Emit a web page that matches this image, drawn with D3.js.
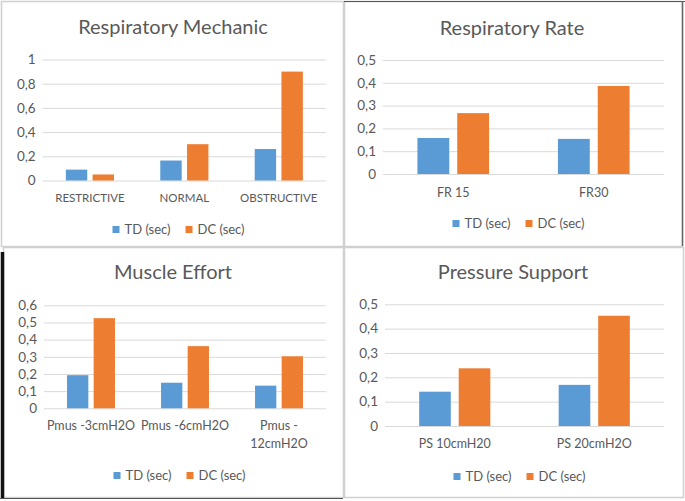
<!DOCTYPE html>
<html>
<head>
<meta charset="utf-8">
<script src="https://cdn.jsdelivr.net/npm/d3@7"></script>
<style>
  body { margin: 0; background: #fff; }
  svg { display: block; font-family: Lato, "Open Sans", sans-serif; }
</style>
</head>
<body>
<svg id="chart" width="685" height="501"></svg>
<script>
// series shared by all four panels
const seriesNames = ["TD (sec)", "DC (sec)"];
const seriesColors = ["#5B9BD5", "#ED7D31"];

// Respiratory Mechanic
const mechCats = ["RESTRICTIVE", "NORMAL", "OBSTRUCTIVE"];
const mechTD = [0.09, 0.165, 0.26];
const mechDC = [0.05, 0.30, 0.90];
const mechTicks = [0, 0.2, 0.4, 0.6, 0.8, 1];

// Respiratory Rate
const rateCats = ["FR 15", "FR30"];
const rateTD = [0.158, 0.154];
const rateDC = [0.267, 0.386];
const rateTicks = [0, 0.1, 0.2, 0.3, 0.4, 0.5];

// Muscle Effort
const muscleCats = ["Pmus -3cmH2O", "Pmus -6cmH2O", "Pmus -12cmH2O"];
const muscleTD = [0.193, 0.149, 0.132];
const muscleDC = [0.525, 0.362, 0.303];
const muscleTicks = [0, 0.1, 0.2, 0.3, 0.4, 0.5, 0.6];

// Pressure Support
const psCats = ["PS 10cmH20", "PS 20cmH2O"];
const psTD = [0.141, 0.169];
const psDC = [0.237, 0.453];
const psTicks = [0, 0.1, 0.2, 0.3, 0.4, 0.5];

const svg = d3.select("#chart");
const textColor = "#595959";
const gridColor = "#D9D9D9";
const comma = d3.formatLocale({decimal: ",", thousands: ".", grouping: [3], currency: ["", ""]}).format("~g");

// panel frames (the screenshot has mixed light/dark edges)
function frame(x, y, w, h) {
    svg.append("rect")
        .attr("x", x + 0.5).attr("y", y + 0.5)
        .attr("width", w).attr("height", h)
        .attr("fill", "none")
        .attr("stroke", "#D0D0D0")
        .attr("stroke-width", 1.5);
}
frame(1, 1, 342, 245);
frame(344, 1, 338, 245);
frame(3, 247, 340, 250);
frame(344, 247, 339, 250);
// dark edges
svg.append("line").attr("x1", 344).attr("x2", 685).attr("y1", 1.5).attr("y2", 1.5)
    .attr("stroke", "#555").attr("stroke-width", 1.2);
svg.append("line").attr("x1", 682.5).attr("x2", 682.5).attr("y1", 1).attr("y2", 246)
    .attr("stroke", "#666").attr("stroke-width", 1.5);
svg.append("line").attr("x1", 2.5).attr("x2", 2.5).attr("y1", 252).attr("y2", 499)
    .attr("stroke", "#111").attr("stroke-width", 3.5);
svg.append("line").attr("x1", 0).attr("x2", 343).attr("y1", 498.5).attr("y2", 498.5)
    .attr("stroke", "#555").attr("stroke-width", 1.2);

function drawPanel(opt) {
    const g = svg.append("g");
    const rows = opt.cats.map((c, i) => ({cat: c, vals: [opt.td[i], opt.dc[i]]}));

    const x = d3.scaleBand().domain(opt.cats).range(opt.xRange);
    const y = d3.scaleLinear().domain([0, d3.max(opt.ticks)]).range(opt.yRange);
    const groupW = x.bandwidth() * 0.51;
    const x1 = d3.scaleBand().domain([0, 1]).range([-groupW / 2, groupW / 2]).paddingInner(0.2);

    // title
    g.append("text")
        .attr("x", opt.titleX).attr("y", opt.titleY)
        .attr("text-anchor", "middle")
        .attr("font-size", 20)
        .attr("fill", textColor)
        .text(opt.title);

    // gridlines + y labels
    const yAxis = d3.axisLeft(y).tickValues(opt.ticks).tickFormat(comma)
        .tickSize(-(opt.xRange[1] - opt.xRange[0])).tickPadding(7);
    const ya = g.append("g").attr("transform", `translate(${opt.xRange[0]},0)`).call(yAxis);
    ya.select(".domain").remove();
    ya.selectAll(".tick line").attr("stroke", gridColor).attr("stroke-width", 1);
    ya.selectAll(".tick text").attr("fill", textColor).attr("font-size", 13.5)
        .attr("font-family", "Lato, sans-serif");

    // bars
    const grp = g.selectAll(".grp").data(rows).enter().append("g")
        .attr("transform", d => `translate(${x(d.cat) + x.bandwidth() / 2},0)`);
    grp.selectAll("rect").data(d => d.vals).enter().append("rect")
        .attr("x", (d, i) => x1(i))
        .attr("width", x1.bandwidth())
        .attr("y", d => y(d))
        .attr("height", d => y(0) - y(d))
        .attr("fill", (d, i) => seriesColors[i]);

    // category labels
    const xa = g.append("g").attr("transform", `translate(0,${opt.yRange[0]})`)
        .call(d3.axisBottom(x).tickSize(0).tickPadding(opt.catPad));
    xa.select(".domain").remove();
    xa.selectAll(".tick text").attr("fill", textColor).attr("font-size", opt.catSize)
        .attr("font-family", "Lato, sans-serif")
        .each(function(d) {
            const t = d3.select(this);
            if (this.getComputedTextLength() > x.bandwidth() - 2) {
                const parts = d.split(" ");
                const first = parts.slice(0, -1).join(" ") + " " + parts[parts.length - 1].slice(0, 1);
                const rest = parts[parts.length - 1].slice(1);
                t.text(null);
                t.append("tspan").attr("x", 0).text(first);
                t.append("tspan").attr("x", 0).attr("dy", "1.4em").text(rest);
            }
        });

    // legend
    const lg = g.append("g").attr("transform", `translate(${opt.legendX},${opt.legendY})`);
    const items = [0, 73];
    seriesNames.forEach((s, i) => {
        lg.append("rect").attr("x", items[i]).attr("y", -3.5).attr("width", 7).attr("height", 7)
            .attr("fill", seriesColors[i]);
        lg.append("text").attr("x", items[i] + 12).attr("y", 0).attr("dy", "0.35em")
            .attr("font-size", 13).attr("fill", textColor).text(s);
    });
}

drawPanel({title: "Respiratory Mechanic", titleX: 173, titleY: 34,
    cats: mechCats, td: mechTD, dc: mechDC, ticks: mechTicks,
    xRange: [42.7, 326], yRange: [180.5, 59.5], catPad: 13, catSize: 11.5,
    legendX: 112.5, legendY: 229.5});

drawPanel({title: "Respiratory Rate", titleX: 512, titleY: 35,
    cats: rateCats, td: rateTD, dc: rateDC, ticks: rateTicks,
    xRange: [383, 664], yRange: [174, 60], catPad: 14, catSize: 12.5,
    legendX: 452.5, legendY: 223.5});

drawPanel({title: "Muscle Effort", titleX: 173, titleY: 279,
    cats: muscleCats, td: muscleTD, dc: muscleDC, ticks: muscleTicks,
    xRange: [44, 326], yRange: [408.3, 305.3], catPad: 13, catSize: 12.5,
    legendX: 113.5, legendY: 475.5});

drawPanel({title: "Pressure Support", titleX: 513, titleY: 279,
    cats: psCats, td: psTD, dc: psDC, ticks: psTicks,
    xRange: [385, 664], yRange: [426, 304.3], catPad: 13, catSize: 12.5,
    legendX: 453.5, legendY: 476.5});
</script>
</body>
</html>
